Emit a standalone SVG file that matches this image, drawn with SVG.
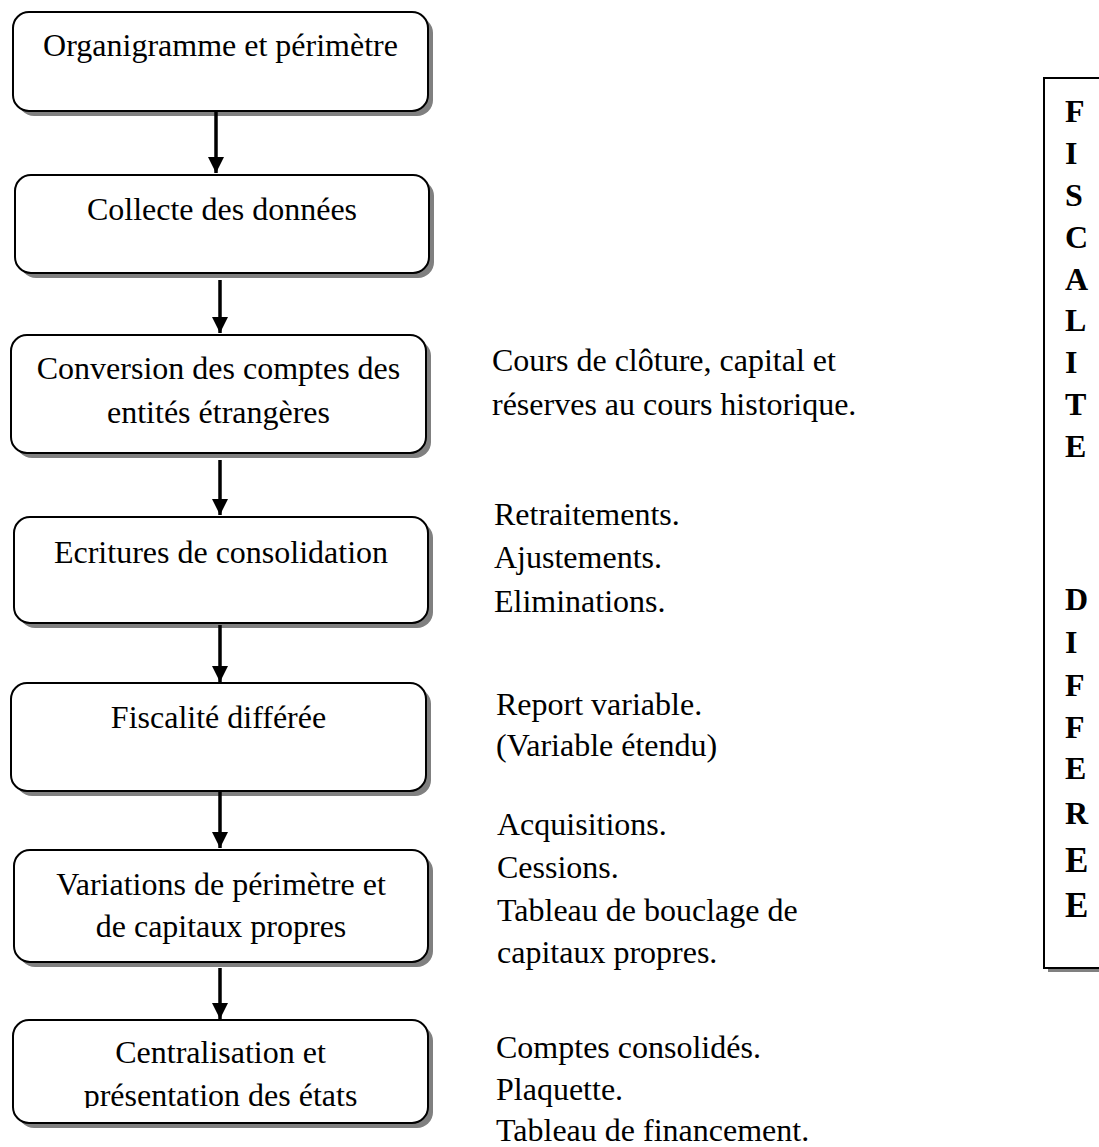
<svg xmlns="http://www.w3.org/2000/svg" width="1099" height="1147" viewBox="0 0 1099 1147">
<style>
.shadow{fill:#808080;stroke:none}
.box{fill:#ffffff;stroke:#000;stroke-width:2}
.t{font-family:"Liberation Serif","Times New Roman",serif;font-size:32px;fill:#000}
.c{text-anchor:middle}
.b{font-weight:bold}
.conn line{stroke:#000;stroke-width:3.5}
</style>
<defs>
<marker id="ah" markerWidth="16" markerHeight="16" viewBox="0 0 16 16" refX="16" refY="8" orient="auto" markerUnits="userSpaceOnUse">
<path d="M0,0 L16,8 L0,16 Z" fill="#000"/>
</marker>
<clipPath id="clip7"><rect x="0" y="1015" width="450" height="93"/></clipPath>
</defs>
<rect width="1099" height="1147" fill="#ffffff"/>

<g id="n1">
<rect class="shadow" x="18" y="17" width="415" height="99" rx="16"/>
<rect class="box" x="13" y="12" width="415" height="99" rx="16"/>
<text class="t c" x="220.5" y="56">Organigramme et périmètre</text>
</g>
<g id="n2">
<rect class="shadow" x="20" y="180" width="414" height="98" rx="16"/>
<rect class="box" x="15" y="175" width="414" height="98" rx="16"/>
<text class="t c" x="222" y="220">Collecte des données</text>
</g>
<g id="n3">
<rect class="shadow" x="16" y="340" width="415" height="118" rx="16"/>
<rect class="box" x="11" y="335" width="415" height="118" rx="16"/>
<text class="t c" x="218.5" y="379">Conversion des comptes des</text>
<text class="t c" x="218.5" y="423">entités étrangères</text>
</g>
<g id="n4">
<rect class="shadow" x="19" y="522" width="414" height="106" rx="16"/>
<rect class="box" x="14" y="517" width="414" height="106" rx="16"/>
<text class="t c" x="221" y="563">Ecritures de consolidation</text>
</g>
<g id="n5">
<rect class="shadow" x="16" y="688" width="415" height="108" rx="16"/>
<rect class="box" x="11" y="683" width="415" height="108" rx="16"/>
<text class="t c" x="218.5" y="728">Fiscalité différée</text>
</g>
<g id="n6">
<rect class="shadow" x="19" y="855" width="414" height="112" rx="16"/>
<rect class="box" x="14" y="850" width="414" height="112" rx="16"/>
<text class="t c" x="221" y="895">Variations de périmètre et</text>
<text class="t c" x="221" y="937">de capitaux propres</text>
</g>
<g id="n7">
<rect class="shadow" x="18" y="1025" width="415" height="103" rx="16"/>
<rect class="box" x="13" y="1020" width="415" height="103" rx="16"/>
<g clip-path="url(#clip7)">
<text class="t c" x="220.5" y="1063">Centralisation et</text>
<text class="t c" x="220.5" y="1106">présentation des états</text>
</g>
</g>

<g id="connectors" class="conn">
<line x1="216" y1="111" x2="216" y2="173" marker-end="url(#ah)"/>
<line x1="220" y1="280" x2="220" y2="333" marker-end="url(#ah)"/>
<line x1="220" y1="460" x2="220" y2="515" marker-end="url(#ah)"/>
<line x1="220" y1="625" x2="220" y2="682" marker-end="url(#ah)"/>
<line x1="220" y1="792" x2="220" y2="848" marker-end="url(#ah)"/>
<line x1="220" y1="968" x2="220" y2="1019" marker-end="url(#ah)"/>
</g>

<g id="notes">
<text class="t" x="492" y="371">Cours de clôture, capital et</text>
<text class="t" x="492" y="415">réserves au cours historique.</text>
<text class="t" x="494" y="525">Retraitements.</text>
<text class="t" x="494" y="568">Ajustements.</text>
<text class="t" x="494" y="612">Eliminations.</text>
<text class="t" x="496" y="715">Report variable.</text>
<text class="t" x="496" y="756">(Variable étendu)</text>
<text class="t" x="497" y="835">Acquisitions.</text>
<text class="t" x="497" y="878">Cessions.</text>
<text class="t" x="497" y="921">Tableau de bouclage de</text>
<text class="t" x="497" y="963">capitaux propres.</text>
<text class="t" x="496" y="1058">Comptes consolidés.</text>
<text class="t" x="496" y="1100">Plaquette.</text>
<text class="t" x="496" y="1141">Tableau de financement.</text>
</g>

<g id="side">
<rect class="shadow" x="1048" y="82" width="60" height="890"/>
<rect x="1044" y="78" width="70" height="890" fill="#ffffff" stroke="#000" stroke-width="2"/>
<text class="t b" x="1065" y="122">F</text>
<text class="t b" x="1065" y="164">I</text>
<text class="t b" x="1065" y="206">S</text>
<text class="t b" x="1065" y="248">C</text>
<text class="t b" x="1065" y="290">A</text>
<text class="t b" x="1065" y="331">L</text>
<text class="t b" x="1065" y="373">I</text>
<text class="t b" x="1065" y="415">T</text>
<text class="t b" x="1065" y="457">E</text>
<text class="t b" x="1065" y="610">D</text>
<text class="t b" x="1065" y="653">I</text>
<text class="t b" x="1065" y="696">F</text>
<text class="t b" x="1065" y="738">F</text>
<text class="t b" x="1065" y="779">E</text>
<text class="t b" x="1065" y="824">R</text>
<text class="t b" x="1065" y="872" style="font-size:35px">E</text>
<text class="t b" x="1065" y="917" style="font-size:35px">E</text>
</g>
</svg>
